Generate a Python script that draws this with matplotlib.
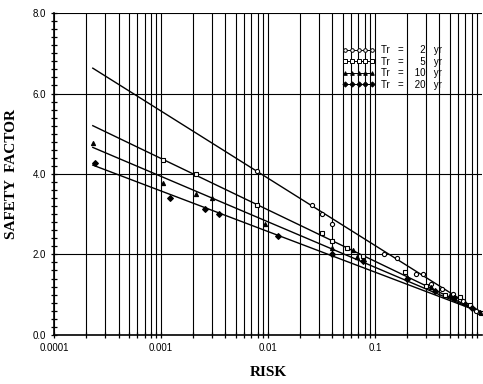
import matplotlib

matplotlib.use("Agg")
import matplotlib.pyplot as plt
from matplotlib.lines import Line2D
from matplotlib.ticker import FixedLocator, LogLocator, NullFormatter, MultipleLocator

# design lines: start / end risk and safety factor
line_risk = [0.00023, 1.0]
line_sf = {
    "Tr = 2 yr": [6.63, 0.55],
    "Tr = 5 yr": [5.20, 0.55],
    "Tr = 10 yr": [4.66, 0.55],
    "Tr = 20 yr": [4.22, 0.55],
}

# observed points for each return period
pts_risk = {
    "Tr = 2 yr": [0.0079, 0.026, 0.032, 0.040, 0.12, 0.16, 0.24, 0.28, 0.33, 0.42, 0.53, 0.66, 0.88],
    "Tr = 5 yr": [0.00105, 0.0021, 0.0079, 0.032, 0.040, 0.055, 0.077, 0.19, 0.30, 0.45, 0.62, 0.77, 0.97],
    "Tr = 10 yr": [0.00023, 0.00105, 0.0021, 0.0030, 0.0094, 0.040, 0.062, 0.068, 0.20, 0.33, 0.50, 0.70, 0.95],
    "Tr = 20 yr": [0.00024, 0.0012, 0.0026, 0.0035, 0.0124, 0.040, 0.077, 0.20, 0.36, 0.55, 0.80],
}
pts_sf = {
    "Tr = 2 yr": [4.07, 3.24, 3.00, 2.76, 2.02, 1.90, 1.51, 1.51, 1.27, 1.15, 1.02, 0.85, 0.60],
    "Tr = 5 yr": [4.34, 4.00, 3.22, 2.54, 2.34, 2.15, 1.95, 1.56, 1.22, 1.00, 0.95, 0.73, 0.54],
    "Tr = 10 yr": [4.78, 3.78, 3.50, 3.41, 2.76, 2.15, 2.10, 1.93, 1.45, 1.18, 0.98, 0.78, 0.58],
    "Tr = 20 yr": [4.27, 3.41, 3.12, 3.00, 2.46, 2.00, 1.83, 1.40, 1.10, 0.92, 0.66],
}
markers = {"Tr = 2 yr": "o", "Tr = 5 yr": "s", "Tr = 10 yr": "^", "Tr = 20 yr": "D"}
fills = {"Tr = 2 yr": "white", "Tr = 5 yr": "white", "Tr = 10 yr": "black", "Tr = 20 yr": "black"}
legend_labels = ["Tr   =      2   yr", "Tr   =      5   yr", "Tr   =    10   yr", "Tr   =    20   yr"]

x_ticks = [0.0001, 0.001, 0.01, 0.1]
x_labels = ["0.0001", "0.001", "0.01", "0.1"]
y_ticks = [0.0, 2.0, 4.0, 6.0, 8.0]
y_labels = ["0.0", "2.0", "4.0", "6.0", "8.0"]

fig = plt.figure(figsize=(4.83, 3.84), dpi=100)
ax = fig.add_axes([0.112, 0.128, 0.886, 0.838])
ax.set_xscale("log")
ax.set_xlim(0.0001, 1.0)
ax.set_ylim(0.0, 8.0)

ax.xaxis.set_major_locator(FixedLocator(x_ticks))
ax.set_xticklabels(x_labels)
ax.xaxis.set_minor_locator(LogLocator(base=10, subs=range(2, 10)))
ax.xaxis.set_minor_formatter(NullFormatter())
ax.yaxis.set_major_locator(FixedLocator(y_ticks))
ax.set_yticklabels(y_labels)
ax.yaxis.set_minor_locator(MultipleLocator(0.2))

ax.grid(True, which="both", axis="x", color="black", lw=0.8)
ax.grid(True, which="major", axis="y", color="black", lw=0.8)
ax.tick_params(which="both", direction="inout", length=5, width=0.9, labelsize=7,
               top=False, right=False)
for lab in ax.get_xticklabels() + ax.get_yticklabels():
    lab.set_fontfamily("Liberation Sans")
for side in ["top", "right"]:
    ax.spines[side].set_visible(False)
ax.spines["left"].set_linewidth(1.2)
ax.spines["bottom"].set_linewidth(1.2)

handles = []
for name in line_sf:
    ax.plot(line_risk, line_sf[name], color="black", lw=1.0, zorder=3)
    ax.plot(pts_risk[name], pts_sf[name], linestyle="none", marker=markers[name],
            markersize=3.0, markerfacecolor=fills[name], markeredgecolor="black",
            markeredgewidth=0.8, zorder=4)
    handles.append(Line2D([], [], color="black", lw=0.7, marker=markers[name],
                          markersize=2.6, markerfacecolor=fills[name],
                          markeredgecolor="black", markeredgewidth=0.7))

leg = fig.legend(handles, legend_labels,
                 loc="upper left", bbox_to_anchor=(0.69, 0.905), numpoints=5,
                 handlelength=3.4, handletextpad=0.6, labelspacing=0.15,
                 frameon=False, prop={"family": "Liberation Sans", "size": 7})

ax.set_xlabel("RISK", fontfamily="Liberation Serif", fontsize=11, fontweight="bold",
              labelpad=9)
ax.set_ylabel("SAFETY  FACTOR", fontfamily="Liberation Serif", fontsize=11,
              fontweight="bold", labelpad=10)

fig.savefig("out.png", dpi=100)
